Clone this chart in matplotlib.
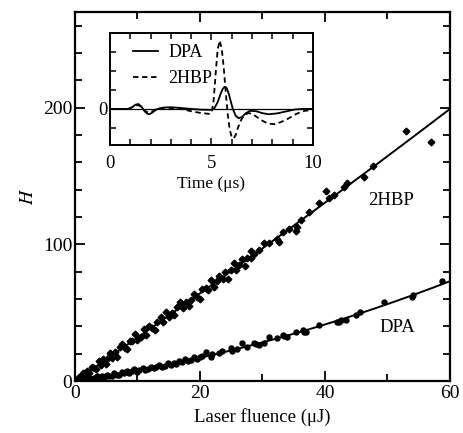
import matplotlib
matplotlib.use("Agg")
import matplotlib.pyplot as plt
import numpy as np

plt.rcParams['font.family'] = ['Liberation Serif', 'DejaVu Serif']
plt.rcParams['mathtext.fontset'] = 'stix'

# ---- main data: 2HBP (diamonds) ----
hbp_F = [0.3, 0.6, 1.0, 1.3, 1.6, 2.0, 2.3, 2.7, 3.0, 3.4, 3.8, 4.1, 4.5, 4.9, 5.3, 5.6, 6.0, 6.4, 6.8,
         7.2, 7.6, 8.0, 8.4, 8.8, 9.2, 9.6, 10.0, 10.5, 11.0, 11.4, 11.9, 12.3, 12.8, 13.2, 13.7, 14.1,
         14.6, 15.0, 15.5, 15.9, 16.4, 16.8, 17.3, 17.7, 18.2, 18.6, 19.0, 19.5, 20.0, 20.4, 20.9, 21.3,
         21.8, 22.2, 22.7, 23.1, 23.6, 24.0, 24.5, 24.9, 25.4, 25.8, 26.3, 26.7, 27.2, 27.6, 28.2, 28.2,
         28.6, 29.5, 30.3, 31.0, 32.4, 32.6, 33.2, 34.2, 35.4, 35.6, 36.2, 37.5, 39.1, 40.2, 40.7, 41.5,
         43.1, 43.6, 46.3, 47.7, 53.0, 57.0]
hbp_H = [1, 3, 2, 6, 3, 7.5, 6, 10.5, 9.5, 8.7, 14.5, 12, 16, 12.5, 17, 20.5, 17, 21, 17.5,
         25, 27, 24.5, 23.5, 29, 29, 34.5, 30, 32.5, 38, 33.5, 40, 39, 37, 43, 47, 43,
         50.5, 47, 49.5, 48, 54.5, 57.5, 53.5, 57.5, 55, 59.5, 64, 61.5, 60, 67.5, 68, 66.5,
         74, 68.5, 73, 76.5, 75, 80, 75, 81, 86, 81, 85, 89, 84.5, 90, 90, 95,
         93, 95.6, 100.7, 101, 104, 102, 109, 111, 110, 113, 117.5, 124, 130, 139, 134, 136,
         142, 145, 149, 157, 183, 175]

# ---- main data: DPA (circles) ----
dpa_F = [0.3, 0.7, 1.1, 1.5, 1.9, 2.3, 2.7, 3.1, 3.5, 3.9, 4.3, 4.7, 5.1, 5.5, 5.9, 6.3, 6.7, 7.1, 7.5,
         7.9, 8.3, 8.7, 9.1, 9.5, 9.9, 10.3, 10.8, 11.2, 11.7, 12.1, 12.6, 13.0, 13.5, 14.0, 14.4, 14.9,
         15.3, 15.8, 16.2, 16.7, 17.2, 17.6, 18.1, 18.5, 19.0, 19.5, 20.0, 20.4, 21.0, 21.7, 22.0, 23.1,
         23.5, 25.0, 25.2, 26.0, 26.8, 27.5, 28.6, 28.9, 29.5, 30.3, 31.1, 32.4, 33.2, 33.5, 34.0, 35.4,
         36.5, 36.6, 37.0, 39.1, 41.9, 42.2, 42.5, 43.4, 45.0, 45.6, 49.5, 54.0, 54.1, 58.7]
dpa_H = [0.5, 1.2, 0.3, 1.8, 1.0, 2.5, 1.2, 2.4, 3.5, 2.2, 3.6, 2.5, 4.6, 3.7, 3.5, 5.8, 4.7, 4.3, 6.6,
         5.6, 7.2, 5.6, 7.0, 8.5, 6.8, 8.2, 9.6, 8.0, 9.0, 10.6, 9.2, 10.6, 11.9, 10.4, 11.3, 13.2,
         11.8, 13.5, 12.4, 14.9, 14.0, 15.8, 14.3, 15.6, 17.3, 15.8, 17.2, 18.6, 21, 17.7, 19.5, 20.4,
         22, 24, 22, 23.5, 27.7, 25, 28, 27, 26, 27.7, 32.5, 31.4, 34, 33, 32, 35.6,
         37, 36, 35.8, 40.9, 43, 43, 45, 44.5, 48.5, 50.4, 57.7, 61.3, 63, 73]

# fit coefficients (H = a*F + b*F^2)
hbp_fit = (3.15, 0.0028)
dpa_fit = (0.667, 0.00917)

# ---- inset waveforms ----
t_dpa = [0, 0.9, 1.1, 1.25, 1.4, 1.55, 1.7, 1.85, 1.95, 2.1, 2.3, 2.6, 3.0, 3.5, 4.0, 4.5, 5.0, 5.15,
         5.3, 5.45, 5.55, 5.65, 5.75, 5.85, 5.95, 6.05, 6.2, 6.35, 6.5, 6.7, 6.9, 7.2, 7.5, 7.8, 8.2,
         8.6, 9.1, 9.5, 10]
v_dpa = [0, 0, 0.1, 0.22, 0.26, 0.12, -0.12, -0.26, -0.28, -0.18, -0.02, 0.07, 0.09, 0.05, 0.0,
         -0.04, -0.05, 0.05, 0.35, 0.8, 1.05, 1.17, 1.1, 0.8, 0.4, 0.0, -0.38, -0.49, -0.42, -0.22,
         -0.1, -0.12, -0.22, -0.28, -0.24, -0.15, -0.03, 0, 0]
t_hbp = [0, 0.9, 1.1, 1.25, 1.4, 1.55, 1.7, 1.85, 1.95, 2.1, 2.3, 2.6, 3.0, 3.5, 4.0, 4.5, 4.9, 5.0,
         5.1, 5.2, 5.3, 5.4, 5.5, 5.6, 5.7, 5.8, 5.9, 6.0, 6.1, 6.2, 6.3, 6.45, 6.6, 6.8, 7.0,
         7.2, 7.5, 7.8, 8.1, 8.4, 8.8, 9.2, 9.6, 10]
v_hbp = [0, 0, 0.08, 0.18, 0.2, 0.1, -0.08, -0.18, -0.2, -0.12, 0.0, 0.05, 0.05, 0.0, -0.12, -0.22,
         -0.26, -0.2, 0.4, 1.8, 3.1, 3.6, 3.2, 2.2, 0.9, -0.3, -1.1, -1.5, -1.55, -1.35, -1.0,
         -0.6, -0.35, -0.22, -0.25, -0.4, -0.62, -0.78, -0.8, -0.7, -0.5, -0.25, -0.1, -0.05]

fig = plt.figure(figsize=(4.64, 4.33), dpi=100)
ax = fig.add_axes([75/464, 1-381/433, 375/464, 369/433])

Ff = np.linspace(0, 60, 200)
ax.plot(Ff, hbp_fit[0]*Ff + hbp_fit[1]*Ff**2, color='black', lw=1.4)
ax.plot(Ff, dpa_fit[0]*Ff + dpa_fit[1]*Ff**2, color='black', lw=1.4)
ax.plot(hbp_F, hbp_H, linestyle='none', marker='D', ms=3.4, color='black')
ax.plot(dpa_F, dpa_H, linestyle='none', marker='o', ms=3.6, color='black')

ax.set_xlim(0, 60)
ax.set_ylim(0, 270)
ax.set_xticks([0, 20, 40, 60])
ax.set_xticks([10, 30, 50], minor=True)
ax.set_yticks([0, 100, 200])
ax.set_yticks([20, 40, 60, 80, 120, 140, 160, 180, 220, 240, 260], minor=True)
ax.tick_params(which='both', direction='in', top=True, right=True, labelsize=14, width=1.3)
ax.tick_params(which='major', length=7, pad=2)
ax.tick_params(axis='x', which='major', pad=3)
ax.tick_params(which='minor', length=5)
for s in ax.spines.values():
    s.set_linewidth(1.6)
ax.set_xlabel('Laser fluence (μJ)', fontsize=13.5, labelpad=4)
ax.set_ylabel('$H$', fontsize=14, labelpad=4)
ax.text(50.6, 132, '2HBP', fontsize=13.5, ha='center', va='center')
ax.text(51.5, 39, 'DPA', fontsize=13.5, ha='center', va='center')

# inset
ins = fig.add_axes([110/464, 1-145/433, 203/464, 112/433])
ins.axhline(0, color='black', lw=0.9)
ins.plot(t_dpa, v_dpa, color='black', lw=1.3, label='DPA')
ins.plot(t_hbp, v_hbp, color='black', lw=1.3, ls=(0, (3, 2)), label='2HBP')
ins.set_xlim(0, 10)
ins.set_ylim(-1.9, 4.0)
ins.set_xticks([0, 5, 10])
ins.set_xticks([1, 2, 3, 4, 6, 7, 8, 9], minor=True)
ins.set_yticks([0])
ins.set_yticks([-1, 1, 2, 3], minor=True)
ins.tick_params(which='both', direction='in', top=True, right=True, labelsize=13.5, width=1.1)
ins.tick_params(which='major', length=5, pad=2)
ins.tick_params(axis='x', which='major', pad=7)
ins.tick_params(which='minor', length=4)
for s in ins.spines.values():
    s.set_linewidth(1.4)
ins.set_xlabel('Time (μs)', fontsize=12.5, labelpad=3)
ins.legend(loc='upper left', bbox_to_anchor=(0.06, 1.0), frameon=False, fontsize=13,
           handlelength=1.4, handletextpad=0.55, borderaxespad=0.2, borderpad=0.4,
           labelspacing=0.5)

fig.savefig('out.png', dpi=100)
